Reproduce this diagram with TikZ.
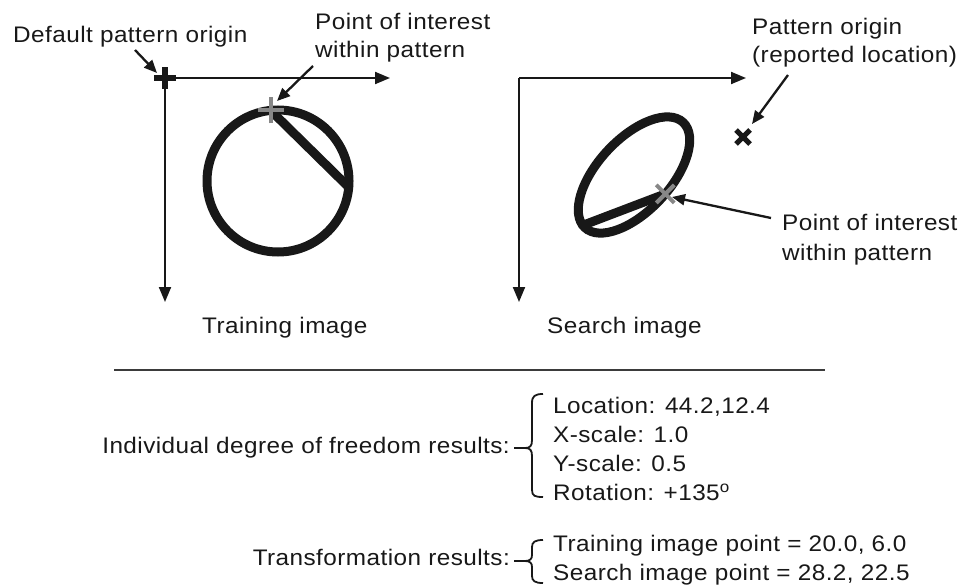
\documentclass[tikz,border=0pt]{standalone}
\usepackage{fontspec}
\setmainfont{Liberation Sans}[FakeStretch=1.08, LetterSpace=2]
\usetikzlibrary{arrows.meta}
\definecolor{ink}{RGB}{24,24,24}
\definecolor{markgray}{RGB}{135,135,135}
\begin{document}
\begin{tikzpicture}[x=1pt,y=-1pt,
  txt/.style={inner sep=0pt, text=ink, font=\fontsize{22.5}{26}\selectfont},
  lefttxt/.style={txt, anchor=base west},
  righttxt/.style={txt, anchor=base east},
  axis/.style={draw=ink, line width=2pt, -{Triangle[length=15pt,width=12pt]}},
  pointer/.style={draw=ink, line width=2.3pt, -{Triangle[length=13pt,width=11pt]}},
  outline/.style={draw=ink, line width=9pt},
  bracestroke/.style={draw=ink, line width=1.8pt},
  rule/.style={draw=ink!85, line width=2pt}]
\useasboundingbox (0,0) rectangle (963,586);

% ---------- training image ----------
\coordinate (tO) at (165,78);
\coordinate (tX) at (390,78);
\coordinate (tY) at (165,302);
\draw[axis] (tO) -- (tX);
\draw[axis] (tO) -- (tY);
% default pattern origin marker
\draw[ink, line width=6pt] (154,78) -- (176,78) (165,67) -- (165,89);

% circular pattern with its chord
\coordinate (tC) at (278,181);
\begin{scope}[shift={(tC)}, x=1pt, y=1pt]
  \draw[outline] (0,0) circle[radius=71];
  \draw[outline, line cap=round] (96:71) coordinate (tP) -- (-5:71);
\end{scope}
% point of interest (grey cross)
\draw[markgray, line width=4pt] ([xshift=-13pt]tP) -- ([xshift=13pt]tP)
  ([yshift=-13pt]tP) -- ([yshift=13pt]tP);

\node[lefttxt] (defo) at (13,43) {Default pattern origin};
\coordinate (defoTail) at (135,50);
\coordinate (defoHead) at (157,73);
\draw[pointer] (defoTail) -- (defoHead);

\node[lefttxt] (tpoi1) at (315,30) {Point of interest};
\node[lefttxt] (tpoi2) at (315,58) {within pattern};
\coordinate (tpoiTail) at (313,66);
\coordinate (tpoiHead) at (277,101);
\draw[pointer] (tpoiTail) -- (tpoiHead);

\node[lefttxt] (tcap) at (202,333) {Training image};

% ---------- search image ----------
\coordinate (sO) at (519,78);
\coordinate (sX) at (746,78);
\coordinate (sY) at (519,302);
\draw[axis] (sO) -- (sX);
\draw[axis] (sO) -- (sY);

% transformed pattern: scale 1.0 / 0.5, rotated
\coordinate (sC) at (634,175);
\begin{scope}[shift={(sC)}, x=1pt, y=1pt, rotate=-133, yscale=0.5]
  \draw[outline] (0,0) circle[radius=72];
  \draw[outline, line cap=round] (96:72) coordinate (sP) -- (-5:72);
\end{scope}
\draw[markgray, line width=4pt] ([shift={(-9pt,-9pt)}]sP) -- ([shift={(9pt,9pt)}]sP)
  ([shift={(-9pt,9pt)}]sP) -- ([shift={(9pt,-9pt)}]sP);

% reported pattern origin
\coordinate (sOrg) at (743,137);
\draw[ink, line width=5pt] ([shift={(-7pt,-7pt)}]sOrg) -- ([shift={(7pt,7pt)}]sOrg)
  ([shift={(-7pt,7pt)}]sOrg) -- ([shift={(7pt,-7pt)}]sOrg);

\node[lefttxt] (porg1) at (752,35) {Pattern origin};
\node[lefttxt] (porg2) at (752,63) {(reported location)};
\coordinate (porgTail) at (788,75);
\coordinate (porgHead) at (752,124);
\draw[pointer] (porgTail) -- (porgHead);

\node[lefttxt] (spoi1) at (782,230) {Point of interest};
\node[lefttxt] (spoi2) at (782,260) {within pattern};
\coordinate (spoiTail) at (771,218);
\coordinate (spoiHead) at (672,197);
\draw[pointer] (spoiTail) -- (spoiHead);

\node[lefttxt] (scap) at (547,333) {Search image};

% ---------- separator ----------
\coordinate (ruleL) at (114,370);
\coordinate (ruleR) at (825,370);
\draw[rule] (ruleL) -- (ruleR);

% ---------- results ----------
\node[righttxt] (dofl) at (510,453) {Individual degree of freedom results:};
\draw[bracestroke] (514,448) -- (525,448);
\draw[bracestroke] (543,394) .. controls (535,394) and (532,396) .. (532,403)
  -- (532,440) .. controls (532,446) and (530,448) .. (525,448)
  .. controls (530,448) and (532,450) .. (532,456)
  -- (532,490) .. controls (532,496) and (535,497) .. (543,497);
\node[lefttxt] (loc) at (553,413) {Location: 44.2,12.4};
\node[lefttxt] (xsc) at (553,442) {X-scale: 1.0};
\node[lefttxt] (ysc) at (553,471) {Y-scale: 0.5};
\node[lefttxt] (rot) at (553,500) {Rotation: +135\textsuperscript{o}};

\node[righttxt] (trl) at (510,565) {Transformation results:};
\draw[bracestroke] (514,561) -- (525,561);
\draw[bracestroke] (543,540) .. controls (535,540) and (532,542) .. (532,547)
  -- (532,555) .. controls (532,559) and (530,561) .. (525,561)
  .. controls (530,561) and (532,563) .. (532,567)
  -- (532,576) .. controls (532,581) and (535,583) .. (543,583);
\node[lefttxt] (tpt) at (553,551) {Training image point = 20.0, 6.0};
\node[lefttxt] (spt) at (553,580) {Search image point = 28.2, 22.5};
\end{tikzpicture}
\end{document}
